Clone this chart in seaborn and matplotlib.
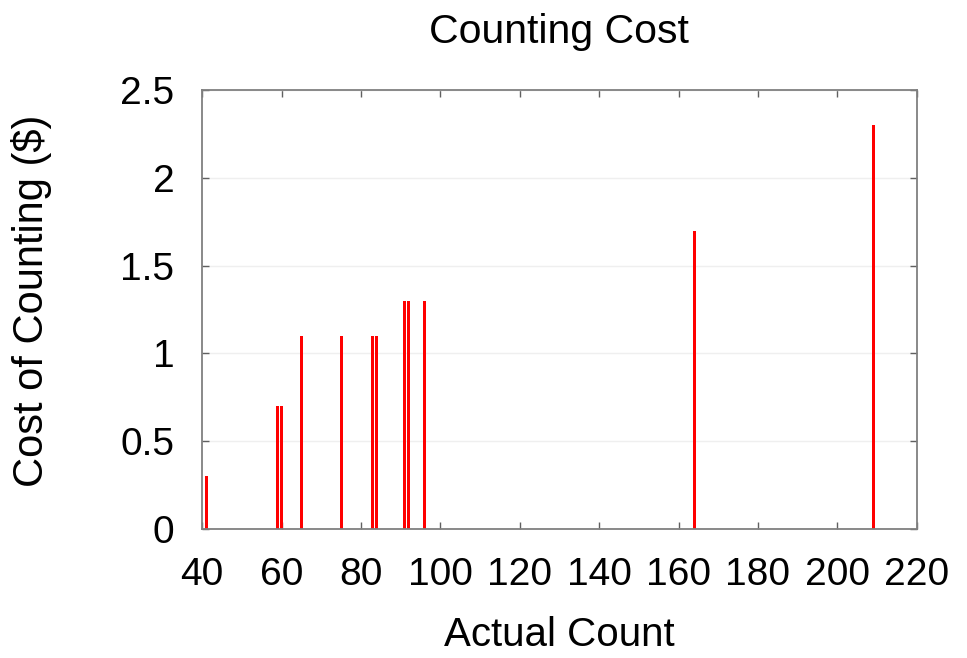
import numpy as np
import pandas as pd
import matplotlib
matplotlib.use("Agg")
import matplotlib.pyplot as plt
import seaborn as sns

# valores
actual_count = [41, 59, 60, 65, 75, 83, 84, 91, 92, 96, 164, 209]
cost = [0.3, 0.7, 0.7, 1.1, 1.1, 1.1, 1.1, 1.3, 1.3, 1.3, 1.7, 2.3]
x_ticks = [40, 60, 80, 100, 120, 140, 160, 180, 200, 220]
y_ticks = [0, 0.5, 1, 1.5, 2, 2.5]
y_labels = ["0", "0.5", "1", "1.5", "2", "2.5"]

df = pd.DataFrame({"count": actual_count, "cost": cost})

sns.set_style("ticks")
plt.rcParams["font.family"] = ["Liberation Sans", "DejaVu Sans"]
plt.rcParams["text.color"] = "black"
plt.rcParams["axes.labelcolor"] = "black"

fig = plt.figure(figsize=(9.67, 6.58), dpi=100)
ax = fig.add_axes([0.209, 0.196, 0.739, 0.667])

sns.barplot(data=df, x="count", y="cost", native_scale=True, width=0.75,
            color="#ff0000", saturation=1, edgecolor="none", ax=ax)

ax.set_xlim(40, 220)
ax.set_ylim(0, 2.5)
ax.set_xticks(x_ticks)
ax.set_yticks(y_ticks)
ax.set_yticklabels(y_labels)
ax.yaxis.grid(True, color="#efefef", lw=1)
ax.set_axisbelow(True)

for s in ax.spines.values():
    s.set_visible(True)
    s.set_color("#808080")
    s.set_linewidth(1.3)
ax.tick_params(direction="in", length=5, width=1, color="#606060",
               labelcolor="black", top=True, right=True, labelsize=28, pad=20)

ax.set_xlabel("Actual Count", fontsize=29, labelpad=17)
ax.set_ylabel("Cost of Counting ($)", fontsize=30)
ax.yaxis.set_label_coords(-0.21, 0.52)
ax.set_title("Counting Cost", fontsize=29.5, pad=34)

fig.savefig("out.png", dpi=100)
